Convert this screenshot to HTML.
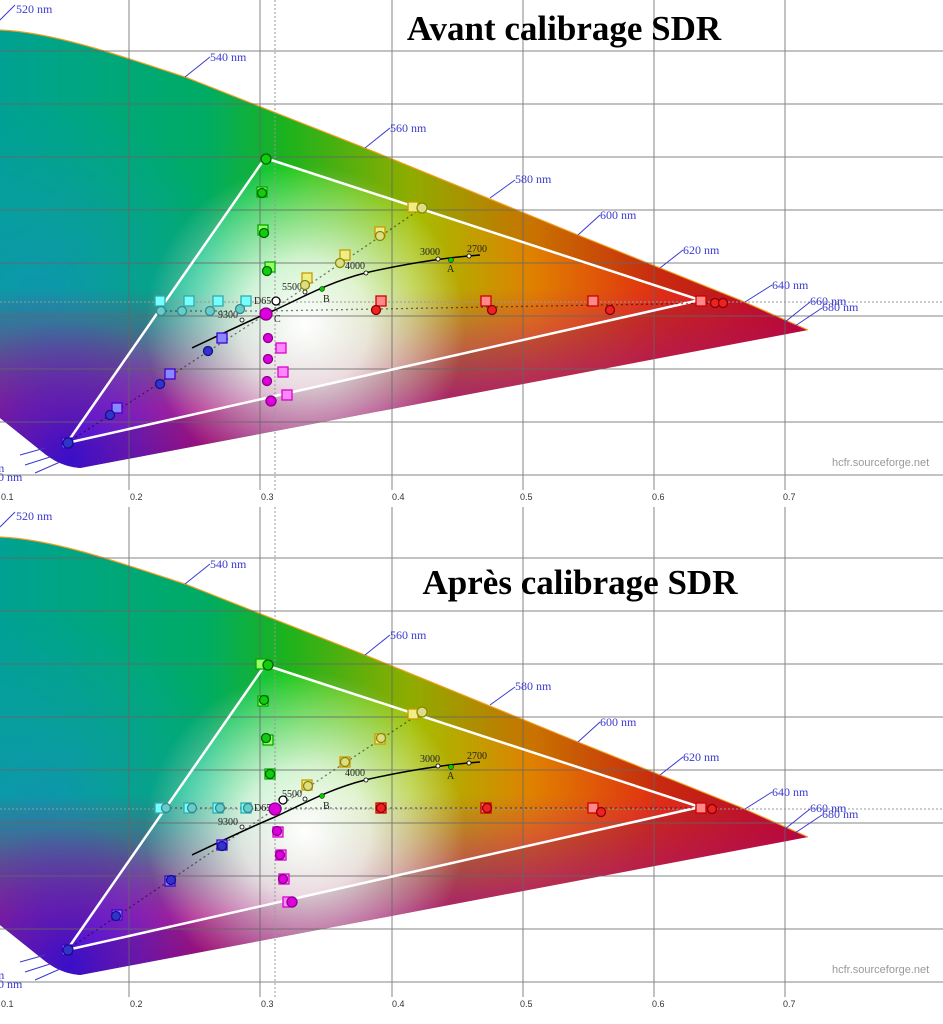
<!DOCTYPE html>
<html><head><meta charset="utf-8"><style>
html,body{margin:0;padding:0;background:#fff;width:943px;height:1024px;overflow:hidden}
svg{display:block}
.t{font-family:"Liberation Serif",serif;font-weight:bold;font-size:35px;fill:#000}
.nm{font-family:"Liberation Serif",serif;font-size:12px;fill:#3a3ad0}
.ax{font-family:"Liberation Sans",sans-serif;font-size:9px;fill:#333}
.k{font-family:"Liberation Serif",serif;font-size:10px;fill:#222}
.wm{font-family:"Liberation Sans",sans-serif;font-size:11px;fill:#999}
</style></head><body>
<svg width="943" height="1024" viewBox="0 0 943 1024" xmlns="http://www.w3.org/2000/svg">
<defs>
<linearGradient id="base" x1="0" y1="0" x2="1" y2="0">
<stop offset="0" stop-color="#00b4a4"/><stop offset="0.25" stop-color="#00c070"/>
<stop offset="0.35" stop-color="#20c820"/><stop offset="0.5" stop-color="#a0c000"/>
<stop offset="0.65" stop-color="#e08000"/><stop offset="0.8" stop-color="#e03010"/>
<stop offset="1" stop-color="#d00030"/></linearGradient>
<linearGradient id="bot" x1="0" y1="0" x2="0" y2="1">
<stop offset="0.6" stop-color="#c0108a" stop-opacity="0"/><stop offset="0.85" stop-color="#c0108a" stop-opacity="0.9"/>
<stop offset="1" stop-color="#b00080"/></linearGradient>
<radialGradient id="blu" cx="70" cy="460" r="140" gradientUnits="userSpaceOnUse">
<stop offset="0" stop-color="#4010e0"/><stop offset="0.5" stop-color="#5020e0" stop-opacity="0.6"/><stop offset="1" stop-color="#6020e0" stop-opacity="0"/></radialGradient>
<radialGradient id="wht" cx="305" cy="325" r="160" gradientUnits="userSpaceOnUse">
<stop offset="0" stop-color="#fff"/><stop offset="0.4" stop-color="#fff" stop-opacity="0.8"/><stop offset="1" stop-color="#fff" stop-opacity="0"/></radialGradient>
<radialGradient id="cy" cx="40" cy="300" r="200" gradientUnits="userSpaceOnUse">
<stop offset="0" stop-color="#10a8c0"/><stop offset="1" stop-color="#10b0c0" stop-opacity="0"/></radialGradient>
<clipPath id="cl"><path d="M0,30 C50,32 110,52 185,77 L365,148 L578,235 L740,300 L808,330 L80,468 C60,466 50,458 40,450 L0,418 Z"/></clipPath>
<g id="panel">
<g clip-path="url(#cl)">
<rect x="0" y="0" width="820" height="480" fill="url(#base)"/>
<rect x="0" y="0" width="820" height="480" fill="url(#cy)"/>
<rect x="0" y="0" width="820" height="480" fill="url(#bot)"/>
<rect x="0" y="0" width="820" height="480" fill="url(#blu)"/>
<rect x="0" y="0" width="820" height="480" fill="url(#wht)"/>
<path fill-rule="evenodd" fill="#000" fill-opacity="0.1" d="M0,0H820V480H0Z M265,158 L700,300 L67,443 Z"/>
</g>
<path d="M0,30 C50,32 110,52 185,77 L365,148 L578,235 L740,300 L808,330" fill="none" stroke="#f0a020" stroke-width="1.2"/>
<g stroke="#666" stroke-width="1" opacity="0.8">
<line x1="0" y1="51" x2="943" y2="51"/><line x1="0" y1="104" x2="943" y2="104"/><line x1="0" y1="157" x2="943" y2="157"/>
<line x1="0" y1="210" x2="943" y2="210"/><line x1="0" y1="263" x2="943" y2="263"/><line x1="0" y1="316" x2="943" y2="316"/>
<line x1="0" y1="369" x2="943" y2="369"/><line x1="0" y1="422" x2="943" y2="422"/><line x1="0" y1="475" x2="943" y2="475"/>
<line x1="129" y1="0" x2="129" y2="490"/><line x1="260" y1="0" x2="260" y2="490"/><line x1="392" y1="0" x2="392" y2="490"/>
<line x1="523" y1="0" x2="523" y2="490"/><line x1="654" y1="0" x2="654" y2="490"/><line x1="785" y1="0" x2="785" y2="490"/>
</g>
<line x1="0" y1="302" x2="943" y2="302" stroke="#999" stroke-dasharray="2,2"/>
<line x1="275" y1="0" x2="275" y2="490" stroke="#999" stroke-dasharray="2,2"/>
<path d="M265,158 L700,300 L67,443 Z" fill="none" stroke="#fff" stroke-width="2.5"/>
<g stroke="#3a3ad0" stroke-width="1" fill="none">
<line x1="0" y1="20" x2="15" y2="5"/><line x1="185" y1="77" x2="210" y2="57"/><line x1="365" y1="148" x2="390" y2="128"/>
<line x1="490" y1="198" x2="515" y2="180"/><line x1="578" y1="235" x2="600" y2="215"/><line x1="660" y1="268" x2="683" y2="250"/>
<line x1="745" y1="302" x2="772" y2="285"/><line x1="785" y1="322" x2="810" y2="302"/><line x1="795" y1="326" x2="822" y2="308"/>
<line x1="20" y1="455" x2="45" y2="448"/><line x1="25" y1="465" x2="50" y2="457"/><line x1="35" y1="473" x2="60" y2="462"/>
</g>
<path d="M192,348 C230,330 255,318 275,310 C305,296 330,282 365,273 C400,265 440,258 480,255" fill="none" stroke="#000" stroke-width="1.5"/>
<g fill="#fff" stroke="#000" stroke-width="0.8"><circle cx="242" cy="320" r="2"/><circle cx="305" cy="292" r="2"/><circle cx="366" cy="273" r="2"/><circle cx="438" cy="259" r="2"/><circle cx="469" cy="256" r="2"/></g>
<circle cx="322" cy="289" r="2.5" fill="#0c0" stroke="#000" stroke-width="0.5"/><circle cx="451" cy="260" r="2.5" fill="#0c0" stroke="#000" stroke-width="0.5"/>
</g>
</defs>

<use href="#panel"/>
<use href="#panel" y="507"/>

<text class="t" x="564" y="40" text-anchor="middle">Avant calibrage SDR</text>
<text class="t" x="580" y="594" text-anchor="middle">Après calibrage SDR</text>

<g class="nm">
<text x="16" y="13">520 nm</text><text x="210" y="61">540 nm</text><text x="390" y="132">560 nm</text>
<text x="515" y="183">580 nm</text><text x="600" y="219">600 nm</text><text x="683" y="254">620 nm</text>
<text x="772" y="289">640 nm</text><text x="810" y="305">660 nm</text><text x="822" y="311">680 nm</text>
<text x="-30" y="453">0 nm</text><text x="-20" y="472">0 nm</text><text x="-8" y="481">20 nm</text>
</g>
<g class="nm" transform="translate(0,507)">
<text x="16" y="13">520 nm</text><text x="210" y="61">540 nm</text><text x="390" y="132">560 nm</text>
<text x="515" y="183">580 nm</text><text x="600" y="219">600 nm</text><text x="683" y="254">620 nm</text>
<text x="772" y="289">640 nm</text><text x="810" y="305">660 nm</text><text x="822" y="311">680 nm</text>
<text x="-20" y="472">0 nm</text><text x="-8" y="481">20 nm</text>
</g>
<g class="ax"><text x="1" y="500">0.1</text><text x="130" y="500">0.2</text><text x="261" y="500">0.3</text><text x="392" y="500">0.4</text><text x="520" y="500">0.5</text><text x="652" y="500">0.6</text><text x="783" y="500">0.7</text></g>
<g class="ax" transform="translate(0,507)"><text x="1" y="500">0.1</text><text x="130" y="500">0.2</text><text x="261" y="500">0.3</text><text x="392" y="500">0.4</text><text x="520" y="500">0.5</text><text x="652" y="500">0.6</text><text x="783" y="500">0.7</text></g>
<text class="wm" x="832" y="466">hcfr.sourceforge.net</text>
<text class="wm" x="832" y="973">hcfr.sourceforge.net</text>
<g class="k"><text x="218" y="318">9300</text><text x="282" y="290">5500</text><text x="345" y="269">4000</text><text x="420" y="255">3000</text><text x="467" y="252">2700</text><text x="254" y="304">D65</text><text x="447" y="272">A</text><text x="323" y="302">B</text><text x="274" y="322">C</text></g>
<g class="k" transform="translate(0,507)"><text x="218" y="318">9300</text><text x="282" y="290">5500</text><text x="345" y="269">4000</text><text x="420" y="255">3000</text><text x="467" y="252">2700</text><text x="254" y="304">D65</text><text x="447" y="272">A</text><text x="323" y="302">B</text></g>

<g stroke-width="1.3">
<g stroke="#000" stroke-opacity="0.5" stroke-dasharray="2,3"><line x1="67" y1="443" x2="266" y2="314"/><line x1="266" y1="314" x2="422" y2="208"/><line x1="160" y1="311" x2="266" y2="311"/><line x1="266" y1="311" x2="715" y2="303"/></g>
<g fill="#7ff" stroke="#3aa"><rect x="155" y="296" width="10" height="10"/><rect x="184" y="296" width="10" height="10"/><rect x="213" y="296" width="10" height="10"/><rect x="241" y="296" width="10" height="10"/></g>
<g fill="#6cc" stroke="#388"><circle cx="161" cy="311" r="4.5"/><circle cx="182" cy="311" r="4.5"/><circle cx="210" cy="311" r="4.5"/><circle cx="240" cy="309" r="4.5"/></g>
<g fill="#9f6" stroke="#0a0"><rect x="257" y="187" width="10" height="10"/><rect x="258" y="225" width="10" height="10"/><rect x="265" y="262" width="10" height="10"/></g>
<g fill="#1c1" stroke="#060"><circle cx="266" cy="159" r="5"/><circle cx="262" cy="193" r="4.5"/><circle cx="264" cy="233" r="4.5"/><circle cx="267" cy="271" r="4.5"/></g>
<g fill="#ee8" stroke="#c90"><rect x="302" y="273" width="10" height="10"/><rect x="340" y="250" width="10" height="10"/><rect x="375" y="227" width="10" height="10"/><rect x="408" y="202" width="10" height="10"/></g>
<g fill="#dd8" stroke="#880"><circle cx="305" cy="285" r="4.5"/><circle cx="340" cy="263" r="4.5"/><circle cx="380" cy="236" r="4.5"/><circle cx="422" cy="208" r="5"/></g>
<g fill="#f88" stroke="#c00"><rect x="376" y="296" width="10" height="10"/><rect x="481" y="296" width="10" height="10"/><rect x="588" y="296" width="10" height="10"/><rect x="696" y="296" width="10" height="10"/></g>
<g fill="#e22" stroke="#800"><circle cx="376" cy="310" r="4.5"/><circle cx="492" cy="310" r="4.5"/><circle cx="610" cy="310" r="4.5"/><circle cx="715" cy="303" r="4.5"/><circle cx="723" cy="303" r="4.5"/></g>
<g fill="#f8f" stroke="#d0c"><rect x="276" y="343" width="10" height="10"/><rect x="278" y="367" width="10" height="10"/><rect x="282" y="390" width="10" height="10"/></g>
<g fill="#d0d" stroke="#808"><circle cx="268" cy="338" r="4.5"/><circle cx="268" cy="359" r="4.5"/><circle cx="267" cy="381" r="4.5"/><circle cx="271" cy="401" r="5"/><circle cx="266" cy="314" r="6"/></g>
<g fill="#88f" stroke="#40c"><rect x="112" y="403" width="10" height="10"/><rect x="165" y="369" width="10" height="10"/><rect x="217" y="333" width="10" height="10"/><rect x="62" y="438" width="10" height="10"/></g>
<g fill="#33c" stroke="#118"><circle cx="110" cy="415" r="4.5"/><circle cx="160" cy="384" r="4.5"/><circle cx="208" cy="351" r="4.5"/><circle cx="68" cy="443" r="5"/></g>
<circle cx="276" cy="301" r="4" fill="#fff" stroke="#000"/>
</g>

<g stroke-width="1.3" transform="translate(0,507)">
<g stroke="#000" stroke-opacity="0.5" stroke-dasharray="2,3"><line x1="67" y1="443" x2="275" y2="302"/><line x1="275" y1="302" x2="422" y2="205"/><line x1="160" y1="301" x2="715" y2="301"/></g>
<g fill="#7ff" stroke="#3aa"><rect x="155" y="296" width="10" height="10"/><rect x="184" y="296" width="10" height="10"/><rect x="213" y="296" width="10" height="10"/><rect x="241" y="296" width="10" height="10"/></g>
<g fill="#6cc" stroke="#388"><circle cx="166" cy="301" r="4.5"/><circle cx="192" cy="301" r="4.5"/><circle cx="220" cy="301" r="4.5"/><circle cx="248" cy="301" r="4.5"/></g>
<g fill="#9f6" stroke="#0a0"><rect x="256" y="152" width="10" height="10"/><rect x="258" y="189" width="10" height="10"/><rect x="263" y="228" width="10" height="10"/><rect x="265" y="262" width="10" height="10"/></g>
<g fill="#1c1" stroke="#060"><circle cx="268" cy="158" r="5"/><circle cx="264" cy="193" r="4.5"/><circle cx="266" cy="231" r="4.5"/><circle cx="270" cy="267" r="4.5"/></g>
<g fill="#ee8" stroke="#c90"><rect x="302" y="273" width="10" height="10"/><rect x="340" y="250" width="10" height="10"/><rect x="375" y="227" width="10" height="10"/><rect x="408" y="202" width="10" height="10"/></g>
<g fill="#dd8" stroke="#880"><circle cx="308" cy="279" r="4.5"/><circle cx="345" cy="255" r="4.5"/><circle cx="381" cy="231" r="4.5"/><circle cx="422" cy="205" r="5"/></g>
<g fill="#f88" stroke="#c00"><rect x="376" y="296" width="10" height="10"/><rect x="481" y="296" width="10" height="10"/><rect x="588" y="296" width="10" height="10"/><rect x="696" y="296" width="10" height="10"/></g>
<g fill="#e22" stroke="#800"><circle cx="381" cy="301" r="4.5"/><circle cx="487" cy="301" r="4.5"/><circle cx="601" cy="305" r="4.5"/><circle cx="712" cy="302" r="4.5"/></g>
<g fill="#f8f" stroke="#d0c"><rect x="273" y="320" width="10" height="10"/><rect x="276" y="343" width="10" height="10"/><rect x="279" y="367" width="10" height="10"/><rect x="283" y="390" width="10" height="10"/></g>
<g fill="#d0d" stroke="#808"><circle cx="277" cy="324" r="4.5"/><circle cx="280" cy="348" r="4.5"/><circle cx="283" cy="372" r="4.5"/><circle cx="292" cy="395" r="5"/><circle cx="275" cy="302" r="6"/></g>
<g fill="#88f" stroke="#40c"><rect x="112" y="403" width="10" height="10"/><rect x="165" y="369" width="10" height="10"/><rect x="217" y="333" width="10" height="10"/><rect x="62" y="438" width="10" height="10"/></g>
<g fill="#33c" stroke="#118"><circle cx="116" cy="409" r="4.5"/><circle cx="171" cy="373" r="4.5"/><circle cx="222" cy="339" r="4.5"/><circle cx="68" cy="443" r="5"/></g>
<circle cx="283" cy="293" r="4" fill="#fff" stroke="#000"/>
</g>
</svg>
</body></html>
